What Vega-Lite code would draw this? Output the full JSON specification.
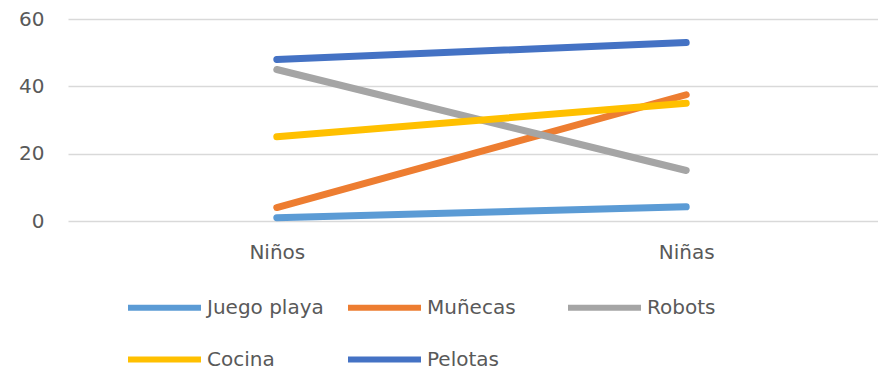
{
  "$schema": "https://vega.github.io/schema/vega-lite/v6.json",
  "width": 827,
  "height": 202,
  "padding": {"left": 18, "top": 9, "right": 0, "bottom": 0},
  "background": "white",
  "config": {
    "view": {"stroke": null},
    "font": "DejaVu Sans"
  },
  "data": {
    "values": [
      {"grupo": "Niños", "juguete": "Juego playa", "valor": 1},
      {"grupo": "Niñas", "juguete": "Juego playa", "valor": 4.2},
      {"grupo": "Niños", "juguete": "Muñecas", "valor": 4},
      {"grupo": "Niñas", "juguete": "Muñecas", "valor": 37.5},
      {"grupo": "Niños", "juguete": "Robots", "valor": 45},
      {"grupo": "Niñas", "juguete": "Robots", "valor": 15},
      {"grupo": "Niños", "juguete": "Cocina", "valor": 25},
      {"grupo": "Niñas", "juguete": "Cocina", "valor": 35},
      {"grupo": "Niños", "juguete": "Pelotas", "valor": 48},
      {"grupo": "Niñas", "juguete": "Pelotas", "valor": 53}
    ]
  },
  "mark": {"type": "line", "strokeWidth": 7, "strokeCap": "round", "strokeJoin": "round"},
  "encoding": {
    "x": {
      "field": "grupo",
      "type": "ordinal",
      "sort": ["Niños", "Niñas"],
      "scale": {"type": "point", "padding": 0.51},
      "axis": {
        "title": null,
        "labelAngle": 0,
        "domain": false,
        "ticks": false,
        "grid": false,
        "labelFont": "DejaVu Sans",
        "labelFontSize": 20,
        "labelColor": "#595959",
        "labelPadding": 21
      }
    },
    "y": {
      "field": "valor",
      "type": "quantitative",
      "scale": {"domain": [0, 60], "nice": false},
      "axis": {
        "title": null,
        "values": [0, 20, 40, 60],
        "domain": false,
        "ticks": false,
        "gridColor": "#d9d9d9",
        "gridWidth": 1.3,
        "labelFont": "DejaVu Sans",
        "labelFontSize": 20,
        "labelColor": "#595959",
        "labelPadding": 24
      }
    },
    "color": {
      "field": "juguete",
      "type": "nominal",
      "scale": {
        "domain": ["Juego playa", "Muñecas", "Robots", "Cocina", "Pelotas"],
        "range": ["#5B9BD5", "#ED7D31", "#A5A5A5", "#FFC000", "#4472C4"]
      },
      "legend": {
        "title": null,
        "orient": "none",
        "legendX": 57,
        "legendY": 249,
        "direction": "horizontal",
        "columns": 3,
        "gridAlign": "all",
        "columnPadding": 12,
        "rowPadding": -40,
        "symbolType": "stroke",
        "symbolSize": 5329,
        "symbolStrokeWidth": 6,
        "labelFont": "DejaVu Sans",
        "labelFontSize": 20,
        "labelColor": "#595959",
        "labelOffset": 3,
        "labelLimit": 300
      }
    },
    "order": {"field": "grupo"}
  }
}
